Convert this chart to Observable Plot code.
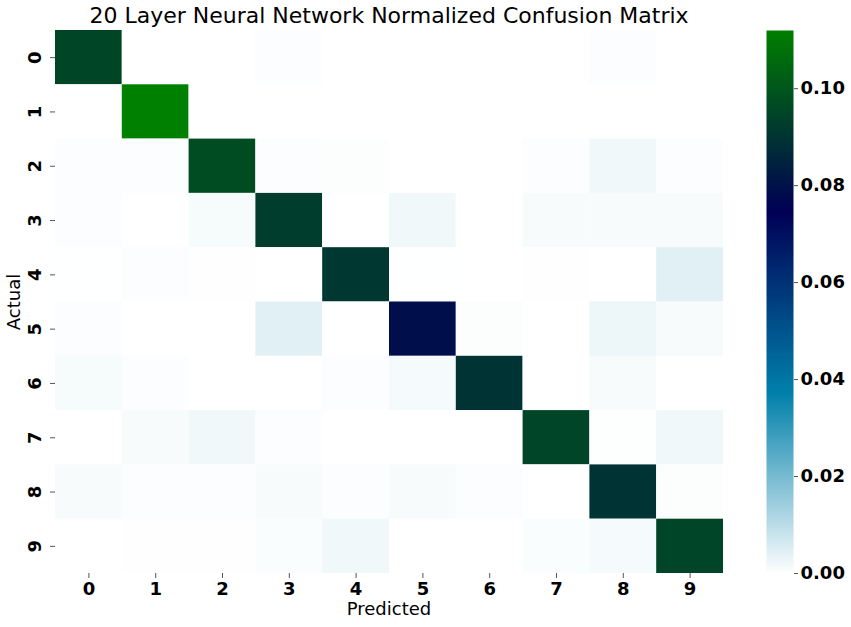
<!DOCTYPE html>
<html><head><meta charset="utf-8">
<script src="https://cdn.jsdelivr.net/npm/d3@7"></script>
<script src="https://cdn.jsdelivr.net/npm/@observablehq/plot@0.6"></script>
<style>
body{margin:0;background:#fff;}
#wrap{position:relative;width:851px;height:627px;font-family:"DejaVu Sans",sans-serif;color:#000;overflow:hidden}
#wrap svg{position:absolute;left:0;top:0;overflow:visible}
.lbl{position:absolute;font-size:18px;line-height:1;white-space:nowrap}
#title{left:55px;width:668px;top:5px;text-align:center;font-size:22px}
#xlabel{left:55px;width:668px;top:600px;text-align:center}
#ylabel{left:14px;top:302px;transform:translate(-50%,-50%) rotate(-90deg)}
</style></head><body>
<div id="wrap"></div>
<script>
const titleText = "20 Layer Neural Network Normalized Confusion Matrix";
const xLabelText = "Predicted";
const yLabelText = "Actual";
const actualLabels = ["0","1","2","3","4","5","6","7","8","9"];
const predictedLabels = ["0","1","2","3","4","5","6","7","8","9"];
const row0 = [0.0953, 0, 0, 0.0006, 0, 0, 0, 0, 0.0006, 0];
const row1 = [0, 0.112, 0, 0, 0, 0, 0, 0, 0, 0];
const row2 = [0.0005, 0.0005, 0.0969, 0.0005, 0.0004, 0, 0, 0.0005, 0.0020, 0.0005];
const row3 = [0.0005, 0, 0.0013, 0.0924, 0, 0.0020, 0, 0.0012, 0.0012, 0.0012];
const row4 = [0.0001, 0.0005, 0.0002, 0, 0.0907, 0.0001, 0, 0.0002, 0, 0.0045];
const row5 = [0.0006, 0, 0, 0.0045, 0, 0.079, 0.0004, 0, 0.0026, 0.0012];
const row6 = [0.0013, 0.0006, 0, 0, 0.0005, 0.0014, 0.0896, 0, 0.0012, 0];
const row7 = [0, 0.0012, 0.0020, 0.0006, 0, 0, 0, 0.095, 0.0003, 0.0020];
const row8 = [0.0012, 0.0005, 0.0005, 0.0012, 0.0005, 0.0011, 0.0005, 0, 0.0896, 0.0004];
const row9 = [0, 0.0002, 0.0002, 0.0007, 0.0020, 0, 0, 0.0007, 0.0015, 0.095];
const matrix = [row0,row1,row2,row3,row4,row5,row6,row7,row8,row9];
const colorbarTicks = [0, 0.02, 0.04, 0.06, 0.08, 0.10];

// matplotlib "ocean_r" colormap
const ocean_r = t => {
  const x = 1 - t;
  const c = v => Math.round(255 * Math.max(0, Math.min(1, v)));
  return `rgb(${c(3*x-2)},${c(Math.abs((3*x-1)/2))},${c(x)})`;
};

const data = [];
actualLabels.forEach((a, i) => predictedLabels.forEach((p, j) => data.push({actual: a, predicted: p, value: matrix[i][j]})));
const vmax = d3.max(data, d => d.value);
const color = {type: "linear", domain: [0, vmax], interpolate: ocean_r};

const wrap = document.getElementById("wrap");

const heat = Plot.plot({
  width: 851, height: 627,
  marginLeft: 55, marginRight: 128, marginTop: 30, marginBottom: 54,
  style: {fontFamily: "DejaVu Sans", fontSize: "18px", background: "transparent", color: "#000"},
  x: {domain: predictedLabels, padding: 0, round: false, label: null},
  y: {domain: actualLabels, padding: 0, round: false, label: null},
  color,
  marks: [
    Plot.cell(data, {x: "predicted", y: "actual", fill: "value", inset: 0}),
    Plot.axisX({tickSize: 5, tickPadding: 4, fontWeight: "bold", fontSize: 18, stroke: "#555", label: null}),
    Plot.axisY({tickSize: 5, tickPadding: 10, tickRotate: -90, fontWeight: "bold", fontSize: 18, stroke: "#555", label: null})
  ]
});
wrap.appendChild(heat);

const cbar = Plot.plot({
  width: 851, height: 627,
  marginLeft: 766, marginRight: 58, marginTop: 30, marginBottom: 54,
  style: {fontFamily: "DejaVu Sans", fontSize: "18px", background: "transparent", color: "#000"},
  x: {domain: [0, 1], axis: null},
  y: {domain: [0, vmax], axis: null},
  color,
  marks: [
    Plot.raster({x1: 0, x2: 1, y1: 0, y2: vmax, width: 1, height: 400, fill: (x, y) => y}),
    Plot.axisY({anchor: "right", ticks: colorbarTicks, tickFormat: d3.format(".2f"), tickSize: 4, tickPadding: 3, fontWeight: "bold", fontSize: 18, stroke: "#555", label: null})
  ]
});
wrap.appendChild(cbar);

for (const [id, txt] of [["title", titleText], ["xlabel", xLabelText], ["ylabel", yLabelText]]) {
  const d = document.createElement("div");
  d.id = id; d.className = "lbl"; d.textContent = txt;
  wrap.appendChild(d);
}
</script>
</body></html>
